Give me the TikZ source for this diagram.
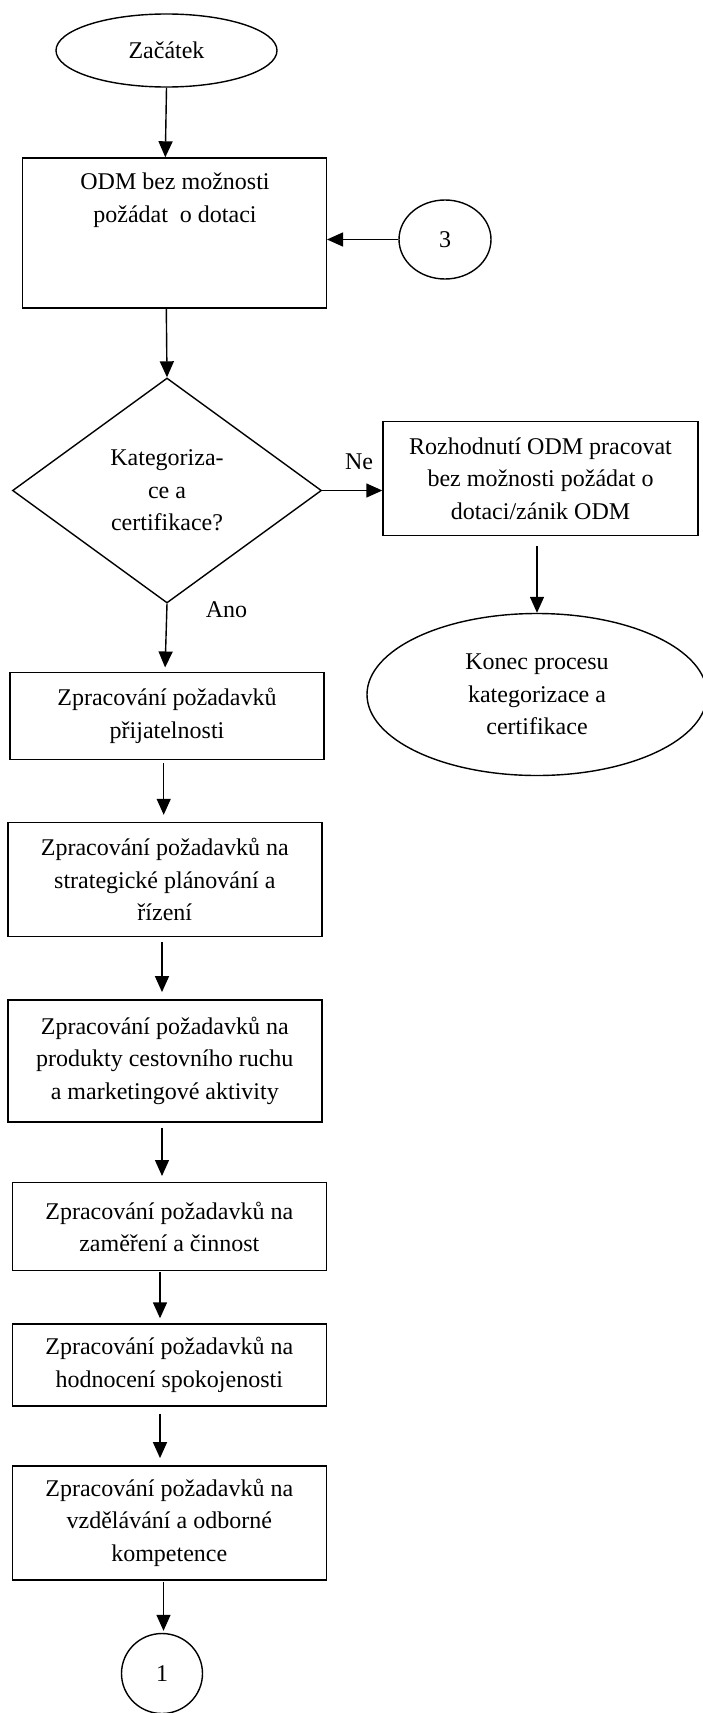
\documentclass[tikz,border=0pt]{standalone}
\usepackage{fontspec}
\setmainfont{Liberation Serif}
\usetikzlibrary{arrows.meta,shapes.geometric}

\tikzset{
  every node/.style={font=\fontsize{24}{32.5}\selectfont, inner sep=0pt},
  stroke/.style={line width=1.4pt},
  procbox/.style={stroke, draw, rectangle, align=center},
  terminal/.style={stroke, draw, ellipse, align=center},
  connector/.style={stroke, draw, ellipse},
  decision/.style={stroke, draw, diamond, align=center},
  arr/.style={stroke, -{Triangle[width=14pt,length=16pt]}},
  lbl/.style={align=center}
}

\begin{document}
\begin{tikzpicture}[x=1pt, y=-1pt]
\useasboundingbox (0,0) rectangle (703,1713);

% start and first step
\node[terminal, minimum width=221pt, minimum height=73pt] (start) at (166.5,50.5) {Začátek};
\node[procbox, minimum width=304pt, minimum height=150pt] (b1) at (174.3,233) {};
\node[lbl] (b1t) at (175,200) {ODM bez možnosti\\požádat\ \ o dotaci};
\node[connector, minimum width=92pt, minimum height=79pt] (c3) at (445,239.5) {3};

% decision
\node[decision, minimum width=309pt, minimum height=225pt] (dec) at (167,490.5) {Kategoriza-\\ce a\\certifikace?};

% "Ne" branch
\node[procbox, minimum width=315pt, minimum height=114pt] (b2) at (540.5,478.3)
  {Rozhodnutí ODM pracovat\\bez možnosti požádat o\\dotaci/zánik ODM};
\node[terminal, minimum width=340pt, minimum height=162pt] (end) at (537,694.5)
  {Konec procesu\\kategorizace a\\certifikace};

% "Ano" branch
\node[procbox, minimum width=314pt, minimum height=87pt] (b3) at (167,715.7)
  {Zpracování požadavků\\přijatelnosti};
\node[procbox, minimum width=314pt, minimum height=114pt] (b4) at (164.8,879.5)
  {Zpracování požadavků na\\strategické plánování a\\řízení};
\node[procbox, minimum width=314pt, minimum height=122pt] (b5) at (164.8,1060.8)
  {Zpracování požadavků na\\produkty cestovního ruchu\\a marketingové aktivity};
\node[procbox, minimum width=314pt, minimum height=88pt] (b6) at (169.3,1226.7)
  {Zpracování požadavků na\\zaměření a činnost};
\node[procbox, minimum width=314pt, minimum height=82pt] (b7) at (169.3,1365)
  {Zpracování požadavků na\\hodnocení spokojenosti};
\node[procbox, minimum width=314pt, minimum height=114pt] (b8) at (169.3,1522.8)
  {Zpracování požadavků na\\vzdělávání a odborné\\kompetence};
\node[connector, minimum width=81pt, minimum height=80pt] (c1) at (162,1673.5) {1};

% branch labels
\node (ne) at (359,461.7) {Ne};
\node (ano) at (226.5,609.3) {Ano};

% connectors
\draw[arr] (start.south) -- ([xshift=-9pt]b1.north);
\draw[arr] (c3.west) -- (c3.west -| b1.east);
\draw[arr] ([xshift=-8pt]b1.south) -- (dec.north);
\draw[arr] (dec.east) -- (dec.east -| b2.west);
\draw[arr, shorten <=10pt] (b2.south -| end.north) -- (end.north);
\draw[arr, shorten >=4pt] (dec.south) -- ([xshift=-2pt]b3.north);
\draw[arr, shorten <=3.5pt, shorten >=7pt] ([xshift=-3.3pt]b3.south) -- ([xshift=-1.1pt]b4.north);
\draw[arr, shorten <=5pt, shorten >=7pt] ([xshift=-2.8pt]b4.south) -- ([xshift=-2.8pt]b5.north);
\draw[arr, shorten <=5pt, shorten >=6pt] ([xshift=-2.8pt]b5.south) -- ([xshift=-7.3pt]b6.north);
\draw[arr, shorten <=1pt, shorten >=5pt] ([xshift=-9.3pt]b6.south) -- ([xshift=-9.3pt]b7.north);
\draw[arr, shorten <=7pt, shorten >=7pt] ([xshift=-9.3pt]b7.south) -- ([xshift=-9.3pt]b8.north);
\draw[arr, shorten <=1.7pt, shorten >=2pt] ([xshift=-5.8pt]b8.south) -- ([xshift=1.5pt]c1.north);
\end{tikzpicture}
\end{document}
